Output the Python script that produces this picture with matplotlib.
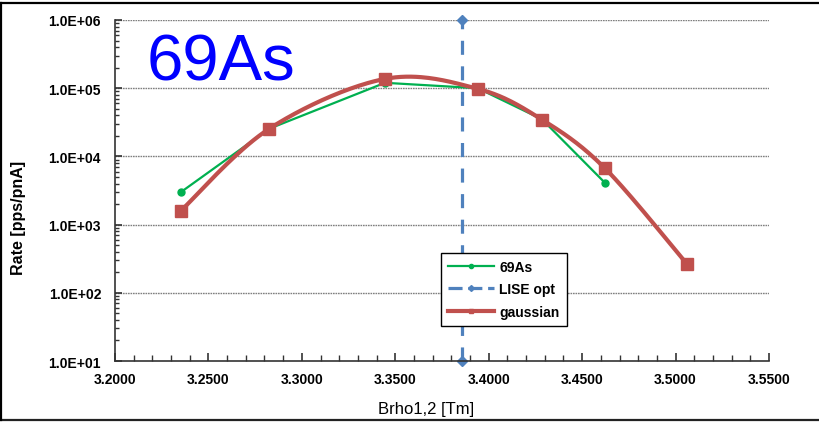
import numpy as np
import matplotlib
matplotlib.use("Agg")
import matplotlib.pyplot as plt
from matplotlib.lines import Line2D
from matplotlib.ticker import FixedLocator, LogLocator, NullFormatter, FuncFormatter

plt.rcParams['font.family'] = ['Liberation Sans', 'DejaVu Sans']

# Brho1,2 settings [Tm]
brho = [3.2353, 3.2826, 3.3445, 3.3941, 3.4285, 3.4622, 3.5063]
# measured 69As rate [pps/pnA]
rate_69as = [3.0e3, 2.55e4, 1.2e5, 1.0e5, 3.5e4, 4.1e3]
# gaussian fit values
rate_gauss = [1.6e3, 2.55e4, 1.37e5, 9.8e4, 3.46e4, 6.7e3, 2.6e2]
# LISE optimum Brho
lise_opt_x = [3.3859, 3.3859]
lise_opt_y = [1.0e1, 1.0e6]

x_ticks = [3.20, 3.25, 3.30, 3.35, 3.40, 3.45, 3.50, 3.55]
y_ticks = [1e1, 1e2, 1e3, 1e4, 1e5, 1e6]

GREEN = '#00B050'
BLUE = '#4F81BD'
RED = '#C0504D'


def smooth(xs, ys, n=40):
    """Catmull-Rom smoothing in (x, log10 y) space."""
    px = np.asarray(xs, float)
    py = np.log10(np.asarray(ys, float))
    P = np.column_stack([px, py])
    P = np.vstack([P[0], P, P[-1]])
    out = []
    for i in range(1, len(P) - 2):
        p0, p1, p2, p3 = P[i - 1], P[i], P[i + 1], P[i + 2]
        c1 = p1 + (p2 - p0) / 6.0
        c2 = p2 - (p3 - p1) / 6.0
        t = np.linspace(0, 1, n)[:, None]
        seg = ((1 - t) ** 3) * p1 + 3 * ((1 - t) ** 2) * t * c1 + 3 * (1 - t) * t ** 2 * c2 + t ** 3 * p2
        out.append(seg if i == 1 else seg[1:])
    out = np.vstack(out)
    return out[:, 0], 10 ** out[:, 1]


W, H = 819, 427
fig = plt.figure(figsize=(W / 100, H / 100), dpi=100)
ax = fig.add_axes([115 / W, 1 - 362 / H, (769 - 115) / W, (362 - 21) / H])

ax.set_yscale('log')
ax.set_xlim(3.20, 3.55)
ax.set_ylim(1e1, 1e6)

# gridlines
for yv in y_ticks[1:]:
    ax.axhline(yv, color='#808080', lw=1.0, ls=(0, (1.2, 0.6)), zorder=1)

# 69As measured
ax.plot(brho[:len(rate_69as)], rate_69as, color=GREEN, lw=1.6, marker='o',
        markersize=5, zorder=3)

# LISE optimum
ax.plot(lise_opt_x, lise_opt_y, color=BLUE, lw=2.3, ls=(0, (4.4, 3.6)),
        marker='D', markersize=5, zorder=2, clip_on=False)

# gaussian smoothed line
sx, sy = smooth(brho, rate_gauss)
ax.plot(sx, sy, color=RED, lw=3.0, zorder=4, solid_capstyle='round')
ax.plot(brho, rate_gauss, ls='none', marker='s', markersize=8, color=RED, zorder=5)

# legend
handles = [
    Line2D([], [], color=GREEN, lw=1.6, marker='o', markersize=3),
    Line2D([], [], color=BLUE, lw=2.3, ls=(0, (4.4, 1.8)), marker='D', markersize=3),
    Line2D([], [], color=RED, lw=3.0, marker='s', markersize=3),
]
leg = fig.legend(handles, ['69As', 'LISE opt', 'gaussian'],
                 loc='upper left', bbox_to_anchor=(441 / W, 1 - 254 / H),
                 frameon=True, fancybox=False, edgecolor='black', framealpha=1,
                 prop={'weight': 'bold', 'size': 10}, handlelength=3.3,
                 handletextpad=0.4, labelspacing=0.6, borderpad=0.5,
                 borderaxespad=0)
leg.get_frame().set_linewidth(1.0)

# spines
for s in ('top', 'right'):
    ax.spines[s].set_visible(False)
for s in ('left', 'bottom'):
    ax.spines[s].set_linewidth(1.2)
    ax.spines[s].set_color('#333333')

# ticks
ax.xaxis.set_major_locator(FixedLocator(x_ticks))
ax.xaxis.set_minor_locator(FixedLocator(np.arange(3.20, 3.5501, 0.01)))
ax.xaxis.set_major_formatter(FuncFormatter(lambda v, p: f'{v:.4f}'))
ax.yaxis.set_major_locator(FixedLocator(y_ticks))
ax.yaxis.set_minor_locator(LogLocator(base=10, subs=np.arange(2, 10)))
ax.yaxis.set_minor_formatter(NullFormatter())
ax.yaxis.set_major_formatter(FuncFormatter(lambda v, p: f'1.0E+{int(round(np.log10(v))):02d}'))

ax.tick_params(axis='x', which='major', direction='in', length=6, width=1.2,
               color='#333333', pad=8, labelsize=10)
ax.tick_params(axis='x', which='minor', direction='in', length=4, width=1.0, color='#333333')
ax.tick_params(axis='y', which='major', direction='in', length=5, width=1.2,
               color='#333333', pad=10, labelsize=10)
ax.tick_params(axis='y', which='minor', direction='in', length=3, width=1.0, color='#333333')
for lbl in ax.get_xticklabels() + ax.get_yticklabels():
    lbl.set_fontweight('bold')

# axis titles
fig.text(426 / W, 1 - 410 / H, 'Brho1,2 [Tm]', ha='center', va='center', fontsize=12)
fig.text(19 / W, 1 - 218 / H, 'Rate [pps/pnA]', ha='center', va='center',
         fontsize=11.5, fontweight='bold', rotation=90)

# big species label
ax.text(147 / W, 1 - 64 / H, '69As', transform=fig.transFigure, color='#0000FF',
        fontsize=47, ha='left', va='center')

# outer frame
fig.add_artist(Line2D([0, 1], [1 - 4 / H, 1 - 4 / H], transform=fig.transFigure,
                      color='black', lw=1.6))
fig.add_artist(Line2D([0, 1], [1 - 420.5 / H, 1 - 420.5 / H], transform=fig.transFigure,
                      color='#222222', lw=1.6))
fig.add_artist(Line2D([1.2 / W, 1.2 / W], [1 - 420.5 / H, 1 - 4 / H],
                      transform=fig.transFigure, color='black', lw=1.6))

fig.savefig('out.png', dpi=100, facecolor='white')
